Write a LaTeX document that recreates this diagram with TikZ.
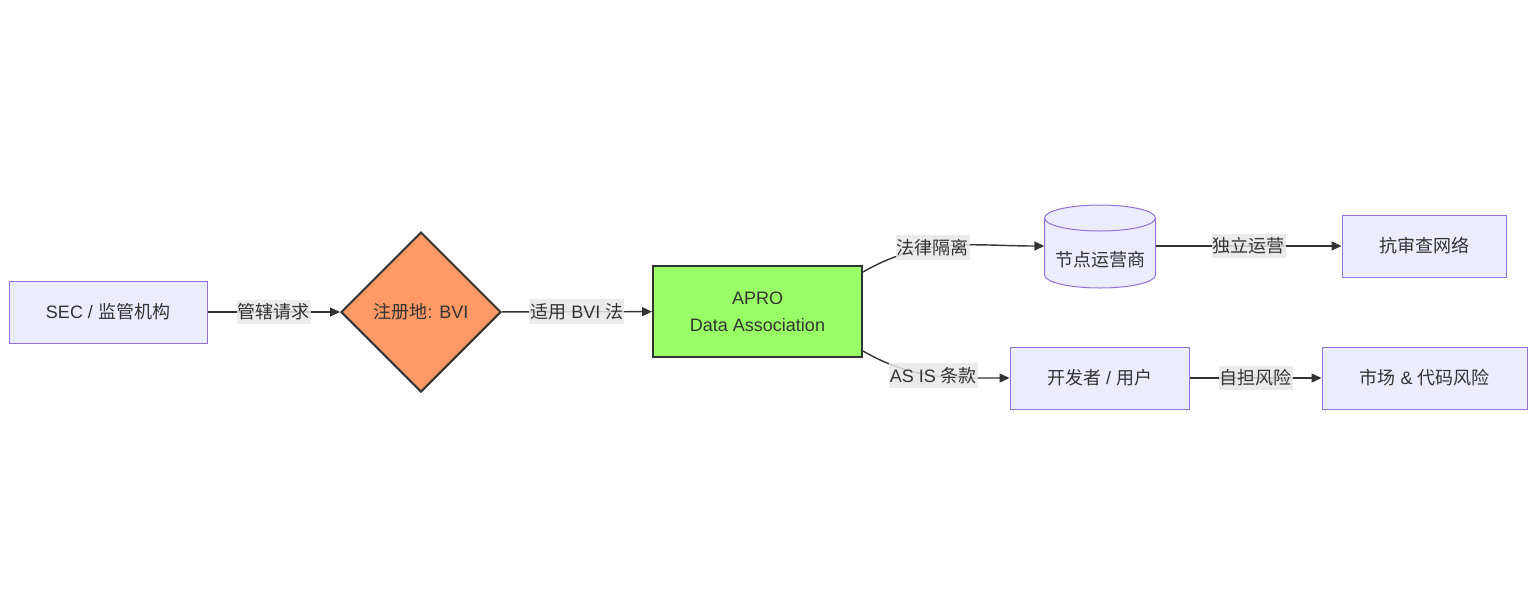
\documentclass[tikz,border=0pt]{standalone}
\usepackage{fontspec}
\setmainfont{Liberation Sans}
\newfontfamily\cjk{Noto Sans CJK SC}
\usepackage{tikz}
\usetikzlibrary{arrows.meta,positioning,shapes.geometric}
\definecolor{nodefill}{HTML}{ECECFF}
\definecolor{nodeline}{HTML}{9370DB}
\definecolor{textgray}{HTML}{333333}
\definecolor{lblbg}{HTML}{E8E8E8}
\definecolor{bviorange}{HTML}{FF9966}
\definecolor{aprogreen}{HTML}{99FF66}

\tikzset{
  box/.style={draw=nodeline, fill=nodefill, line width=1pt, text=textgray,
    minimum height=62pt, inner sep=0pt},
  edge/.style={draw=textgray, line width=1.4pt, -{Triangle[length=10pt,width=9pt]}},
  lbl/.style={fill=lblbg, fill opacity=0.85, text opacity=1, text=textgray,
    inner xsep=1pt, inner ysep=4pt},
  cylcap/.style={x radius=55.5pt, y radius=13pt}
}

\begin{document}
\begin{tikzpicture}[x=1pt, y=-1pt, font=\fontsize{18}{27}\selectfont]
  \useasboundingbox (0,0) rectangle (1536,614);

  % left part
  \node[box, minimum width=198pt] (sec) at (108,312) {SEC / {\cjk 监管机构}};
  \node[diamond, draw=textgray, fill=bviorange, line width=2pt, text=textgray,
    aspect=1, minimum size=160pt, inner sep=0pt] (bvi) at (421,312) {{\cjk 注册地}: BVI};
  \node[draw=textgray, fill=aprogreen, line width=2pt, text=textgray, align=center,
    minimum width=209pt, minimum height=91pt] (apro) at (757.5,311.5) {APRO\\Data Association};

  % upper branch (cylinder drawn round the node body)
  \path[draw=nodeline, fill=nodefill, line width=1pt]
    (1044.5,218) -- (1044.5,275) arc[start angle=180, end angle=360, cylcap]
    -- (1155.5,218) arc[start angle=0, end angle=180, cylcap] -- cycle;
  \draw[nodeline, line width=1pt] (1044.5,218) arc[start angle=180, end angle=360, cylcap];
  \node[text=textgray, minimum width=111pt, minimum height=57pt, inner sep=0pt]
    (ops) at (1100,259.5) {\cjk 节点运营商};
  \node[box, minimum width=164pt] (net) at (1424,246) {\cjk 抗审查网络};

  % lower branch
  \node[box, minimum width=179pt] (dev) at (1099.5,378) {{\cjk 开发者} / {\cjk 用户}};
  \node[box, minimum width=205pt] (risk) at (1424.5,378) {{\cjk 市场} \& {\cjk 代码风险}};

  % Arrows
  \draw[edge] (sec) -- (bvi) node[lbl, midway] {\cjk 管辖请求};
  \draw[edge] (bvi) -- (apro) node[lbl, midway] {{\cjk 适用} BVI {\cjk 法}};
  \draw[edge] ([yshift=-7pt]apro.north east) to[out=30, in=180]
    node[lbl, pos=0.4] {\cjk 法律隔离} ([yshift=13.5pt]ops.west);
  \draw[edge] ([yshift=7pt]apro.south east) to[out=-30, in=180]
    node[lbl, pos=0.5] {AS IS {\cjk 条款}} (dev.west);
  \draw[edge] ([yshift=13.5pt]ops.east) -- (net) node[lbl, midway] {\cjk 独立运营};
  \draw[edge] (dev) -- (risk) node[lbl, midway] {\cjk 自担风险};
\end{tikzpicture}
\end{document}
